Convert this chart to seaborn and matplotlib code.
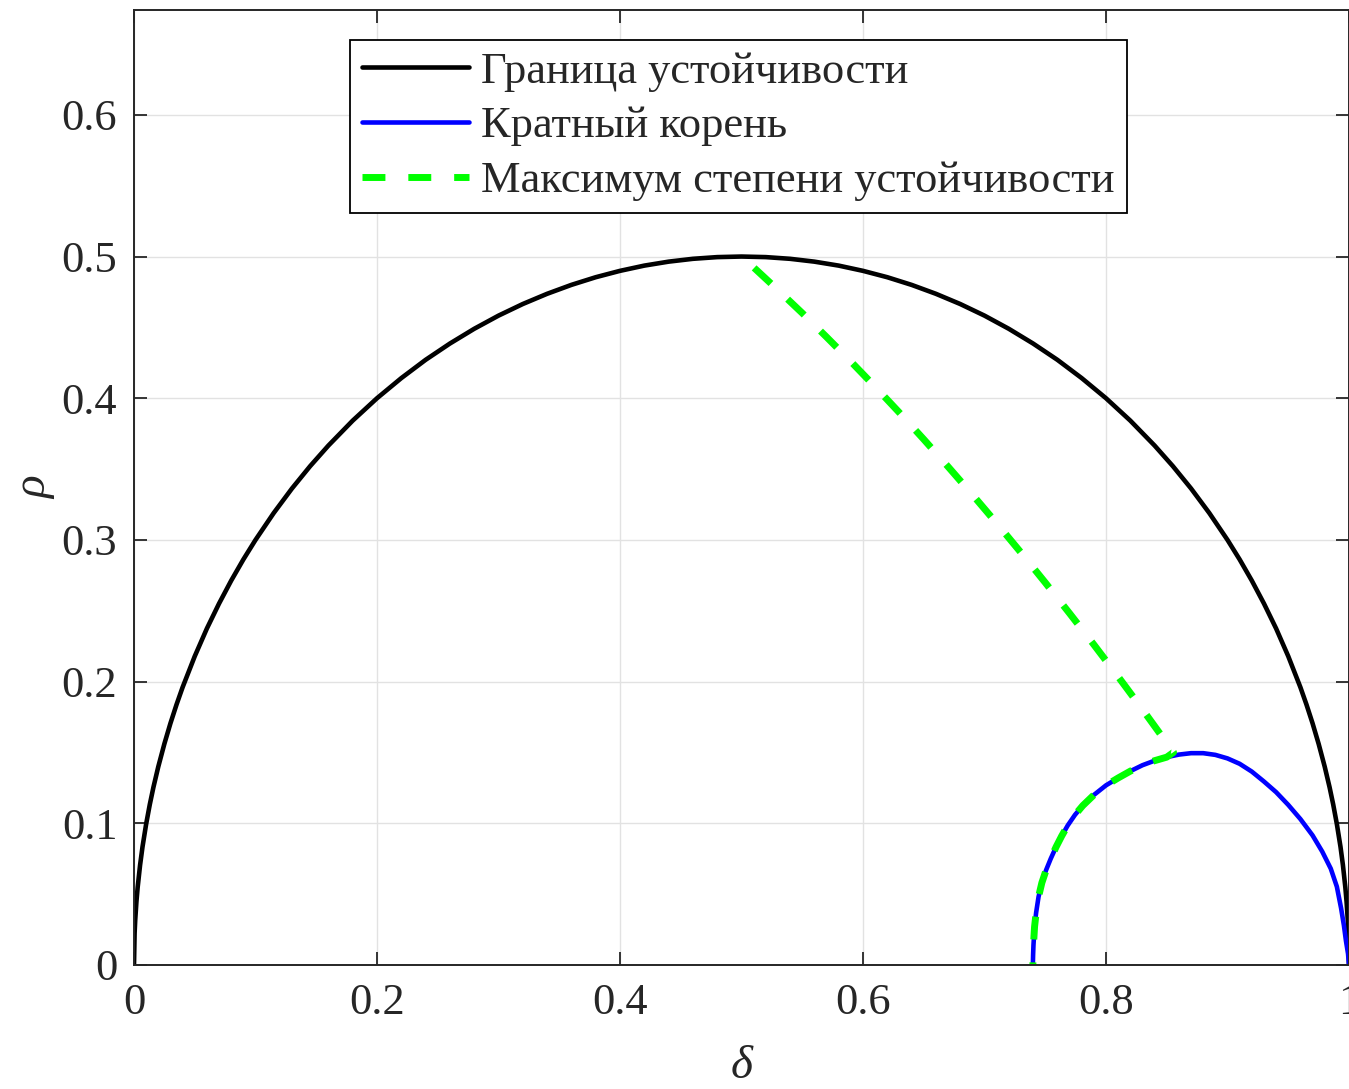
import numpy as np
import pandas as pd
import seaborn as sns
from matplotlib import pyplot as plt

# stability boundary (black)
delta_boundary = [0.0, 0.0005, 0.001, 0.002, 0.003, 0.005, 0.007, 0.01, 0.013, 0.016,
                  0.02, 0.025, 0.03, 0.035, 0.04, 0.05, 0.06, 0.07, 0.08, 0.09,
                  0.1, 0.115, 0.13, 0.145, 0.16, 0.18, 0.2, 0.22, 0.24, 0.26,
                  0.28, 0.3, 0.32, 0.34, 0.36, 0.38, 0.4, 0.42, 0.44, 0.46,
                  0.48, 0.5, 0.52, 0.54, 0.56, 0.58, 0.6, 0.62, 0.64, 0.66,
                  0.68, 0.7, 0.72, 0.74, 0.76, 0.78, 0.8, 0.82, 0.84, 0.855,
                  0.87, 0.885, 0.9, 0.91, 0.92, 0.93, 0.94, 0.95, 0.96, 0.965,
                  0.97, 0.975, 0.98, 0.984, 0.987, 0.99, 0.993, 0.995, 0.997, 0.998,
                  0.999, 0.9995, 1.0]
rho_boundary = [0.0, 0.0224, 0.0316, 0.0447, 0.0547, 0.0705, 0.0834, 0.0995, 0.1133, 0.1255,
                0.14, 0.1561, 0.1706, 0.1838, 0.196, 0.2179, 0.2375, 0.2551, 0.2713, 0.2862,
                0.3, 0.319, 0.3363, 0.3521, 0.3666, 0.3842, 0.4, 0.4142, 0.4271, 0.4386,
                0.449, 0.4583, 0.4665, 0.4737, 0.48, 0.4854, 0.4899, 0.4936, 0.4964, 0.4984,
                0.4996, 0.5, 0.4996, 0.4984, 0.4964, 0.4936, 0.4899, 0.4854, 0.48, 0.4737,
                0.4665, 0.4583, 0.449, 0.4386, 0.4271, 0.4142, 0.4, 0.3842, 0.3666, 0.3521,
                0.3363, 0.319, 0.3, 0.2862, 0.2713, 0.2551, 0.2375, 0.2179, 0.196, 0.1838,
                0.1706, 0.1561, 0.14, 0.1255, 0.1133, 0.0995, 0.0834, 0.0705, 0.0547, 0.0447,
                0.0316, 0.0224, 0.0]

# multiple root (blue)
delta_root = [0.7398, 0.74, 0.7403, 0.7412, 0.7425, 0.7445, 0.7472, 0.7507, 0.7545,
              0.7589, 0.7635, 0.7685, 0.7745, 0.7809, 0.79, 0.8, 0.81, 0.82, 0.83,
              0.84, 0.85, 0.86, 0.87, 0.88, 0.89, 0.9, 0.91, 0.92, 0.93,
              0.94, 0.95, 0.96, 0.97, 0.978, 0.985, 0.99, 0.9935, 0.9958, 0.9975,
              0.9992, 1.0]
rho_root = [0.0, 0.007, 0.014, 0.027, 0.037, 0.0482, 0.058, 0.067, 0.075,
            0.0833, 0.091, 0.0985, 0.106, 0.1125, 0.12, 0.1268, 0.132, 0.1368, 0.141,
            0.1442, 0.1467, 0.1485, 0.1495, 0.1495, 0.1483, 0.1458, 0.142, 0.1365, 0.1295,
            0.122, 0.113, 0.103, 0.0915, 0.08, 0.068, 0.0553, 0.04, 0.028, 0.017,
            0.008, 0.0]

# maximum of stability degree (green dashed)
delta_max = [0.5104, 0.53, 0.55, 0.57, 0.59, 0.61, 0.63, 0.65, 0.67, 0.69,
             0.71, 0.73, 0.75, 0.77, 0.79, 0.81, 0.83, 0.8556,
             0.85, 0.84, 0.83, 0.82, 0.81, 0.8, 0.79, 0.7809, 0.7745, 0.7685,
             0.7635, 0.7589, 0.7545, 0.7507, 0.7472, 0.7445, 0.7425, 0.7412,
             0.7403, 0.74, 0.7398]
rho_max = [0.492, 0.4764, 0.4601, 0.4432, 0.4259, 0.4081, 0.3898, 0.371, 0.3517, 0.332,
           0.3118, 0.2911, 0.2699, 0.2482, 0.2261, 0.2035, 0.1804, 0.1501,
           0.1467, 0.1442, 0.141, 0.1368, 0.132, 0.1268, 0.12, 0.1125, 0.106, 0.0985,
           0.091, 0.0833, 0.075, 0.067, 0.058, 0.0482, 0.037, 0.027,
           0.014, 0.007, 0.0]

labels = ["Граница устойчивости", "Кратный корень", "Максимум степени устойчивости"]
x_ticks = [0, 0.2, 0.4, 0.6, 0.8, 1.0]
x_tick_labels = ["0", "0.2", "0.4", "0.6", "0.8", "1"]
y_ticks = [0, 0.1, 0.2, 0.3, 0.4, 0.5, 0.6]
y_tick_labels = ["0", "0.1", "0.2", "0.3", "0.4", "0.5", "0.6"]

sns.set_theme(style="ticks")
plt.rcParams["font.family"] = ["Liberation Serif", "DejaVu Serif"]

fig = plt.figure(figsize=(13.49, 10.89), dpi=100)
ax = fig.add_axes([134 / 1349, 1 - 965 / 1089, 1215 / 1349, 955 / 1089])

# draw curves
sns.lineplot(x=delta_boundary, y=rho_boundary, sort=False, estimator=None,
             color="black", lw=3.3, label=labels[0], ax=ax)
sns.lineplot(x=delta_root, y=rho_root, sort=False, estimator=None,
             color="#0000ff", lw=3.3, label=labels[1], ax=ax)
sns.lineplot(x=delta_max, y=rho_max, sort=False, estimator=None,
             color="#00ff00", lw=5.0, linestyle=(0, (3.3, 3.3)),
             label=labels[2], ax=ax)

ax.set_xlim(0, 1)
ax.set_ylim(0, 0.674)
ax.set_xticks(x_ticks)
ax.set_xticklabels(x_tick_labels)
ax.set_yticks(y_ticks)
ax.set_yticklabels(y_tick_labels)

ax.grid(True, color="#e2e2e2", lw=1.0)
ax.set_axisbelow(True)
for s in ax.spines.values():
    s.set_color("#262626")
    s.set_linewidth(1.4)
ax.tick_params(which="both", direction="in", top=True, right=True,
               length=9.4, width=1.3, color="#262626", labelsize=32,
               labelcolor="#262626")
ax.tick_params(axis="x", pad=13)
ax.tick_params(axis="y", pad=12)

ax.set_xlabel("δ", fontsize=34, fontstyle="italic", labelpad=16)
ax.set_ylabel("ρ", fontsize=34, fontstyle="italic", labelpad=4)

leg = ax.legend(loc="upper left", bbox_to_anchor=(0.178, 0.969), borderaxespad=0,
                fontsize=32, handlelength=2.4, handletextpad=0.28,
                labelspacing=0.33, borderpad=0.27, fancybox=False,
                framealpha=1, edgecolor="black")
leg.get_frame().set_linewidth(1.3)

fig.savefig("out.png", dpi=100)
